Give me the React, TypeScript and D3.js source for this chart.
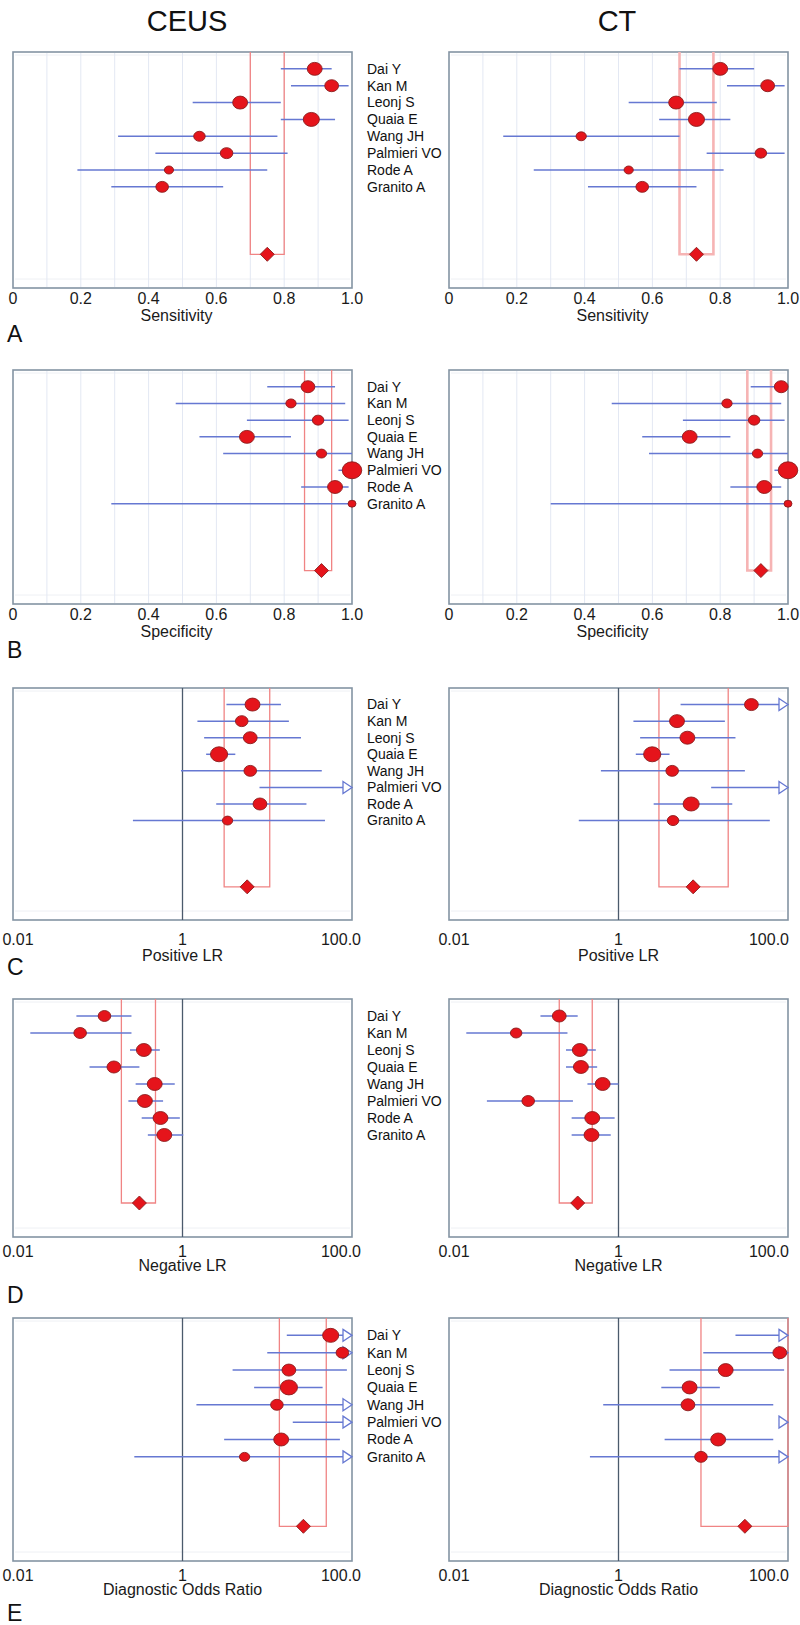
import * as d3 from 'd3';

const studies = ['Dai Y', 'Kan M', 'Leonj S', 'Quaia E', 'Wang JH', 'Palmieri VO', 'Rode A', 'Granito A'];
const columns = ['CEUS', 'CT'];
const panelLetters = ['A', 'B', 'C', 'D', 'E'];
const axisTitles = ['Sensitivity', 'Specificity', 'Positive LR', 'Negative LR', 'Diagnostic Odds Ratio'];
const linearTicks = [0, 0.2, 0.4, 0.6, 0.8, 1.0];
const logTicks = [0.01, 1, 100];

// estimates, lower / upper CI, relative weight; pooled = [estimate, lower, upper]
const sensCeus = [0.89, 0.94, 0.67, 0.88, 0.55, 0.63, 0.46, 0.44];
const sensCeusLo = [0.79, 0.82, 0.53, 0.79, 0.31, 0.42, 0.19, 0.29];
const sensCeusHi = [0.94, 0.99, 0.79, 0.95, 0.78, 0.81, 0.75, 0.62];
const sensCeusW = [42, 36, 42, 49, 25, 30, 16, 30];
const sensCeusPooled = [0.75, 0.7, 0.8];

const sensCt = [0.8, 0.94, 0.67, 0.73, 0.39, 0.92, 0.53, 0.57];
const sensCtLo = [0.68, 0.82, 0.53, 0.62, 0.16, 0.76, 0.25, 0.41];
const sensCtHi = [0.9, 0.99, 0.79, 0.83, 0.68, 0.99, 0.81, 0.73];
const sensCtW = [42, 36, 42, 49, 20, 25, 16, 30];
const sensCtPooled = [0.73, 0.68, 0.78];

const specCeus = [0.87, 0.82, 0.9, 0.69, 0.91, 1.0, 0.95, 1.0];
const specCeusLo = [0.75, 0.48, 0.69, 0.55, 0.62, 0.96, 0.85, 0.29];
const specCeusHi = [0.95, 0.98, 0.99, 0.82, 1.0, 1.0, 0.99, 1.0];
const specCeusW = [36, 20, 25, 42, 20, 72, 42, 12];
const specCeusPooled = [0.91, 0.86, 0.94];

const specCt = [0.98, 0.82, 0.9, 0.71, 0.91, 1.0, 0.93, 1.0];
const specCtLo = [0.89, 0.48, 0.69, 0.57, 0.59, 0.96, 0.83, 0.3];
const specCtHi = [1.0, 0.98, 0.99, 0.83, 1.0, 1.0, 0.98, 1.0];
const specCtW = [36, 20, 25, 42, 20, 72, 42, 12];
const specCtPooled = [0.92, 0.88, 0.95];

const plrCeus = [6.7, 5.0, 6.3, 2.7, 6.3, 250, 8.2, 3.4];
const plrCeusLo = [3.3, 1.5, 1.8, 1.9, 0.96, 8.1, 2.5, 0.26];
const plrCeusHi = [14.5, 18, 25, 4.2, 44, 4000, 29, 48];
const plrCeusW = [42, 30, 36, 56, 30, 30, 36, 20];
const plrCeusPooled = [5.8, 3.1, 10.7];

const plrCt = [37, 4.9, 6.5, 2.5, 4.3, 300, 7.2, 4.4];
const plrCtLo = [5.4, 1.5, 1.8, 1.6, 0.62, 12.4, 2.6, 0.34];
const plrCtHi = [250, 18, 24, 4.0, 31, 5000, 22, 61];
const plrCtW = [36, 42, 42, 56, 30, 30, 49, 25];
const plrCtPooled = [7.6, 3.0, 19.7];

const nlrCeus = [0.12, 0.062, 0.35, 0.155, 0.47, 0.36, 0.55, 0.61];
const nlrCeusLo = [0.056, 0.016, 0.24, 0.08, 0.28, 0.23, 0.33, 0.39];
const nlrCeusHi = [0.25, 0.25, 0.54, 0.31, 0.81, 0.59, 0.93, 1.02];
const nlrCeusW = [30, 30, 42, 36, 42, 42, 42, 42];
const nlrCeusPooled = [0.31, 0.19, 0.48];

const nlrCt = [0.2, 0.062, 0.35, 0.36, 0.65, 0.086, 0.49, 0.48];
const nlrCtLo = [0.12, 0.016, 0.24, 0.24, 0.43, 0.028, 0.28, 0.28];
const nlrCtHi = [0.33, 0.25, 0.54, 0.56, 1.0, 0.29, 0.9, 0.81];
const nlrCtW = [36, 25, 42, 42, 42, 30, 42, 42];
const nlrCtPooled = [0.33, 0.2, 0.49];

const dorCeus = [56, 77, 18, 18, 13, 400, 14.6, 5.4];
const dorCeusLo = [17, 10, 3.9, 7.0, 1.46, 20, 3.1, 0.27];
const dorCeusHi = [190, 600, 87, 45, 120, 8000, 72, 110];
const dorCeusW = [49, 30, 36, 56, 30, 30, 42, 20];
const dorCeusPooled = [26.7, 13.9, 49.7];

const dorCt = [300, 80, 18.4, 6.9, 6.6, 800, 15, 9.4];
const dorCtLo = [24, 10, 4.0, 3.2, 0.66, 110, 3.5, 0.46];
const dorCtHi = [4000, 700, 90, 15.7, 67, 20000, 67, 190];
const dorCtW = [42, 36, 42, 42, 36, 30, 42, 30];
const dorCtPooled = [31, 9.4, 120];

interface PanelData {
  est: number[];
  lo: number[];
  hi: number[];
  w: number[];
  pooled: number[];
}

const rowsData: PanelData[][] = [
  [
    { est: sensCeus, lo: sensCeusLo, hi: sensCeusHi, w: sensCeusW, pooled: sensCeusPooled },
    { est: sensCt, lo: sensCtLo, hi: sensCtHi, w: sensCtW, pooled: sensCtPooled },
  ],
  [
    { est: specCeus, lo: specCeusLo, hi: specCeusHi, w: specCeusW, pooled: specCeusPooled },
    { est: specCt, lo: specCtLo, hi: specCtHi, w: specCtW, pooled: specCtPooled },
  ],
  [
    { est: plrCeus, lo: plrCeusLo, hi: plrCeusHi, w: plrCeusW, pooled: plrCeusPooled },
    { est: plrCt, lo: plrCtLo, hi: plrCtHi, w: plrCtW, pooled: plrCtPooled },
  ],
  [
    { est: nlrCeus, lo: nlrCeusLo, hi: nlrCeusHi, w: nlrCeusW, pooled: nlrCeusPooled },
    { est: nlrCt, lo: nlrCtLo, hi: nlrCtHi, w: nlrCtW, pooled: nlrCtPooled },
  ],
  [
    { est: dorCeus, lo: dorCeusLo, hi: dorCeusHi, w: dorCeusW, pooled: dorCeusPooled },
    { est: dorCt, lo: dorCtLo, hi: dorCtHi, w: dorCtW, pooled: dorCtPooled },
  ],
];

// layout
const W = 800;
const H = 1625;
const rowTop = [52, 370, 688, 999, 1318];
const rowHeight = [236, 234, 232, 238, 243];
const colX = [
  [13, 352],
  [449, 788],
];
const labelX = 367;
const font = 'Arial, "Liberation Sans", Helvetica, sans-serif';

const boxStroke = '#8494a3';
const ciBlue = '#6678d2';
const dotRed = '#e5141b';
const dotStroke = '#8a1d1d';
const pooledRed = '#f08484';
const refLine = '#4b5a6c';

const rScale = d3.scaleSqrt().domain([0, 100]).range([0, 10]);

function Panel({ row, col }: { row: number; col: number }) {
  const data = rowsData[row][col];
  const isLog = row >= 2;
  const [x0, x1] = colX[col];
  const top = rowTop[row];
  const bottom = top + rowHeight[row];
  const x = isLog
    ? d3.scaleLog().domain([0.01, 100]).range([x0, x1])
    : d3.scaleLinear().domain([0, 1]).range([x0, x1]);
  const [dMin, dMax] = x.domain();
  const y = d3.scaleLinear().domain([-1, 13]).range([top, bottom]);
  const clampV = (v: number) => Math.max(dMin, Math.min(dMax, v));
  const yPooled = y(11);
  const [pEst, pLo, pHi] = data.pooled;
  const thickPooled = !isLog && col === 1;

  const grid = isLog ? [] : d3.range(1, 10).map((k) => k / 10);
  const ticks = isLog ? logTicks : linearTicks;
  const tickY = bottom + (isLog ? (row === 2 ? 25 : 20) : 16);
  const titleY = bottom + (isLog ? (row === 2 ? 41 : 34) : 33);

  return (
    <g>
      <rect x={x0} y={top} width={x1 - x0} height={bottom - top} fill="#fff" stroke={boxStroke} strokeWidth={1.6} />
      <line x1={x0 + 2} x2={x1 - 2} y1={top + 3} y2={top + 3} stroke="#eef0f4" strokeWidth={1} />
      <line x1={x0 + 2} x2={x1 - 2} y1={bottom - 9} y2={bottom - 9} stroke="#eef0f4" strokeWidth={1} />
      {grid.map((g) => (
        <line key={g} x1={x(g)} x2={x(g)} y1={top + 1} y2={bottom - 1} stroke="#e3e8f3" strokeWidth={1} />
      ))}
      {/* pooled CI bracket */}
      <path
        d={`M${x(clampV(pLo))},${top}V${yPooled}H${x(clampV(pHi))}V${top}`}
        fill="none"
        stroke={thickPooled ? '#f6b4b4' : pooledRed}
        strokeWidth={thickPooled ? 2.6 : 1.3}
      />
      {isLog && <line x1={x(1)} x2={x(1)} y1={top} y2={bottom} stroke={refLine} strokeWidth={1.3} />}
      {studies.map((s, i) => {
        const yy = y(i);
        const lo = clampV(data.lo[i]);
        const arrow = data.hi[i] > dMax;
        const hiX = arrow ? x1 - 9 : x(clampV(data.hi[i]));
        return (
          <g key={s}>
            {x(lo) < hiX && <line x1={x(lo)} x2={hiX} y1={yy} y2={yy} stroke={ciBlue} strokeWidth={1.5} />}
            {arrow && (
              <path
                d={`M${x1 - 9},${yy - 6}L${x1},${yy}L${x1 - 9},${yy + 6}Z`}
                fill="#fff"
                stroke={ciBlue}
                strokeWidth={1.3}
              />
            )}
          </g>
        );
      })}
      {studies.map((s, i) => {
        const v = data.est[i];
        if (v < dMin || v > dMax) return null;
        const r = rScale(data.w[i]);
        return (
          <ellipse key={s} cx={x(v)} cy={y(i)} rx={r * 1.15} ry={r} fill={dotRed} stroke={dotStroke} strokeWidth={0.9} />
        );
      })}
      <path
        d={`M${x(pEst) - 7},${yPooled}L${x(pEst)},${yPooled - 7}L${x(pEst) + 7},${yPooled}L${x(pEst)},${yPooled + 7}Z`}
        fill={dotRed}
        stroke={dotStroke}
        strokeWidth={0.9}
      />
      {col === 0 &&
        studies.map((s, i) => (
          <text key={s} x={labelX} y={y(i)} dy="0.35em" fontSize={14} fontFamily={font} fill="#111">
            {s}
          </text>
        ))}
      {ticks.map((t, k) => {
        let tx = x(t);
        let anchor = 'middle';
        if (isLog && k === 0) tx += 5;
        if (isLog && k === ticks.length - 1) {
          tx = x1 + (col === 0 ? 9 : 1);
          anchor = 'end';
        }
        const label = isLog ? (t === 100 ? '100.0' : String(t)) : t === 0 ? '0' : d3.format('.1f')(t);
        return (
          <text key={t} x={tx} y={tickY} textAnchor={anchor} fontSize={16} fontFamily={font} fill="#1a1a1a">
            {label}
          </text>
        );
      })}
      <text
        x={(x0 + x1) / 2 - (isLog ? 0 : 6)}
        y={titleY}
        textAnchor="middle"
        fontSize={16}
        fontFamily={font}
        fill="#1a1a1a"
      >
        {axisTitles[row]}
      </text>
    </g>
  );
}

const letterY = [342, 658, 975, 1303, 1621];

export default function App() {
  return (
    <svg
      width={W}
      height={H}
      viewBox={`0 0 ${W} ${H}`}
      style={{ position: 'absolute', left: 0, top: 0, background: '#fff' }}
    >
      <rect width={W} height={H} fill="#fff" />
      {columns.map((c, ci) => (
        <text
          key={c}
          x={ci === 0 ? 187 : 617}
          y={31}
          textAnchor="middle"
          fontSize={29}
          fontFamily={font}
          fill="#111"
        >
          {c}
        </text>
      ))}
      {panelLetters.map((l, ri) => (
        <g key={l}>
          <Panel row={ri} col={0} />
          <Panel row={ri} col={1} />
          <text x={7} y={letterY[ri]} fontSize={23} fontFamily={font} fill="#111">
            {l}
          </text>
        </g>
      ))}
    </svg>
  );
}
